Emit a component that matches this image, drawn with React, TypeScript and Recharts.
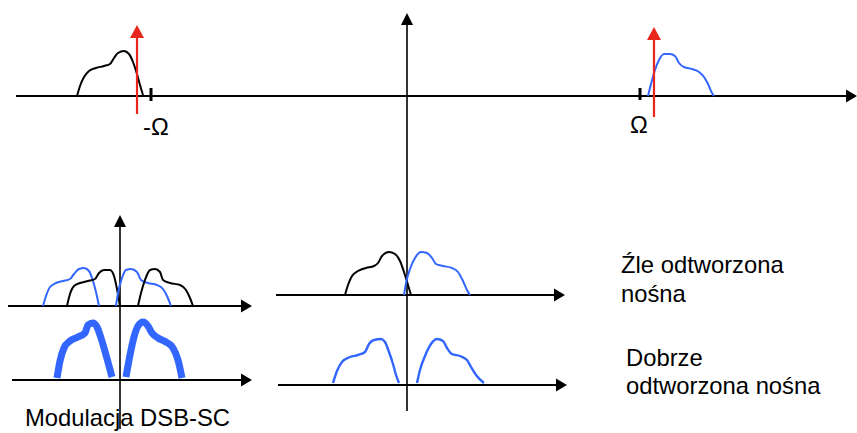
import React from 'react';
import { ComposedChart, Line, Scatter, XAxis, YAxis } from 'recharts';

// ---- Axes (diagram coordinate space: x to the right, y downward) ----
const topAxis = [{ x: 16, y: 96 }, { x: 849, y: 96 }];
const centralAxis = [{ x: 407, y: 411 }, { x: 407, y: 24 }];
const leftVertAxis = [{ x: 120, y: 429 }, { x: 120, y: 226 }];
const leftUpperAxis = [{ x: 8, y: 306 }, { x: 242, y: 306 }];
const leftLowerAxis = [{ x: 12, y: 380 }, { x: 242, y: 380 }];
const midUpperAxis = [{ x: 276, y: 295 }, { x: 555, y: 295 }];
const midLowerAxis = [{ x: 278, y: 385 }, { x: 557, y: 385 }];

const tickMinus = [{ x: 151, y: 88 }, { x: 151, y: 101 }];
const tickPlus = [{ x: 640, y: 88 }, { x: 640, y: 100 }];

// carriers (red)
const carrierLeft = [{ x: 137, y: 114 }, { x: 137, y: 36 }];
const carrierRight = [{ x: 654, y: 117 }, { x: 654, y: 38 }];

// arrow heads (tip points)
const arrowRight = [
  { x: 857, y: 96 },
  { x: 252, y: 306 },
  { x: 252, y: 380 },
  { x: 565, y: 295 },
  { x: 567, y: 385 },
];
const arrowUp = [
  { x: 407, y: 13 },
  { x: 120, y: 215 },
];
const arrowUpRed = [
  { x: 137, y: 25 },
  { x: 654, y: 27 },
];

// ---- Spectra ----
const topLeftBlack = [
  { x: 77, y: 96 }, { x: 80, y: 86 }, { x: 84, y: 77 }, { x: 89, y: 71 }, { x: 96, y: 68 },
  { x: 104, y: 66 }, { x: 110, y: 64 }, { x: 114, y: 58 }, { x: 118, y: 53 }, { x: 124, y: 51 },
  { x: 129, y: 54 }, { x: 133, y: 62 }, { x: 137, y: 74 }, { x: 140, y: 85 }, { x: 143, y: 95 },
];
const topRightBlue = [
  { x: 648, y: 96 }, { x: 651, y: 84 }, { x: 655, y: 70 }, { x: 659, y: 60 }, { x: 664, y: 54 },
  { x: 670, y: 54 }, { x: 675, y: 56 }, { x: 679, y: 63 }, { x: 684, y: 67 }, { x: 692, y: 69 },
  { x: 699, y: 72 }, { x: 704, y: 77 }, { x: 708, y: 84 }, { x: 712, y: 93 }, { x: 714, y: 96 },
];

const dsbBlueLeft = [
  { x: 43, y: 306 }, { x: 46, y: 296 }, { x: 50, y: 287 }, { x: 56, y: 283 }, { x: 63, y: 281 },
  { x: 70, y: 279 }, { x: 74, y: 274 }, { x: 79, y: 269 }, { x: 84, y: 268 }, { x: 89, y: 271 },
  { x: 93, y: 281 }, { x: 96, y: 292 }, { x: 99, y: 306 },
];
const dsbBlackLeft = [
  { x: 67, y: 306 }, { x: 70, y: 294 }, { x: 74, y: 286 }, { x: 80, y: 283 }, { x: 88, y: 281 },
  { x: 95, y: 279 }, { x: 99, y: 273 }, { x: 104, y: 270 }, { x: 110, y: 270 }, { x: 114, y: 276 },
  { x: 117, y: 289 }, { x: 120, y: 306 },
];
const dsbBlueRight = [
  { x: 116, y: 306 }, { x: 118, y: 293 }, { x: 122, y: 278 }, { x: 126, y: 270 }, { x: 131, y: 269 },
  { x: 137, y: 272 }, { x: 141, y: 280 }, { x: 148, y: 283 }, { x: 157, y: 285 }, { x: 163, y: 289 },
  { x: 167, y: 296 }, { x: 171, y: 306 },
];
const dsbBlackRight = [
  { x: 138, y: 306 }, { x: 141, y: 293 }, { x: 145, y: 280 }, { x: 150, y: 270 }, { x: 155, y: 269 },
  { x: 160, y: 272 }, { x: 163, y: 280 }, { x: 170, y: 283 }, { x: 180, y: 285 }, { x: 186, y: 290 },
  { x: 190, y: 298 }, { x: 193, y: 306 },
];
const dsbSumLeft = [
  { x: 57, y: 378 }, { x: 60, y: 361 }, { x: 64, y: 348 }, { x: 70, y: 341 }, { x: 78, y: 337 },
  { x: 85, y: 333 }, { x: 88, y: 325 }, { x: 93, y: 323 }, { x: 97, y: 327 }, { x: 101, y: 338 },
  { x: 106, y: 355 }, { x: 112, y: 377 },
];
const dsbSumRight = [
  { x: 126, y: 377 }, { x: 130, y: 355 }, { x: 134, y: 337 }, { x: 138, y: 326 }, { x: 143, y: 322 },
  { x: 148, y: 326 }, { x: 152, y: 333 }, { x: 158, y: 338 }, { x: 166, y: 342 }, { x: 173, y: 348 },
  { x: 178, y: 360 }, { x: 182, y: 378 },
];

const badBlack = [
  { x: 345, y: 295 }, { x: 348, y: 285 }, { x: 352, y: 276 }, { x: 358, y: 271 }, { x: 366, y: 268 },
  { x: 374, y: 266 }, { x: 378, y: 263 }, { x: 382, y: 256 }, { x: 389, y: 252 }, { x: 395, y: 254 },
  { x: 400, y: 261 }, { x: 404, y: 272 }, { x: 408, y: 285 }, { x: 411, y: 295 },
];
const badBlue = [
  { x: 404, y: 295 }, { x: 406, y: 283 }, { x: 410, y: 269 }, { x: 415, y: 258 }, { x: 421, y: 252 },
  { x: 427, y: 253 }, { x: 432, y: 258 }, { x: 436, y: 264 }, { x: 443, y: 266 }, { x: 452, y: 268 },
  { x: 458, y: 272 }, { x: 463, y: 281 }, { x: 467, y: 290 }, { x: 470, y: 295 },
];
const goodLeft = [
  { x: 333, y: 383 }, { x: 337, y: 371 }, { x: 342, y: 362 }, { x: 350, y: 357 }, { x: 358, y: 355 },
  { x: 365, y: 352 }, { x: 369, y: 344 }, { x: 374, y: 340 }, { x: 381, y: 339 }, { x: 385, y: 342 },
  { x: 389, y: 352 }, { x: 393, y: 364 }, { x: 396, y: 375 }, { x: 399, y: 383 },
];
const goodRight = [
  { x: 417, y: 383 }, { x: 420, y: 370 }, { x: 425, y: 356 }, { x: 431, y: 344 }, { x: 437, y: 339 },
  { x: 443, y: 341 }, { x: 447, y: 348 }, { x: 452, y: 354 }, { x: 460, y: 356 }, { x: 467, y: 360 },
  { x: 471, y: 367 }, { x: 476, y: 375 }, { x: 484, y: 383 },
];

// ---- Texts ----
const labels = [
  { x: 143, y: 135, text: '-Ω' },
  { x: 630, y: 133, text: 'Ω' },
  { x: 621, y: 273, text: 'Źle odtworzona' },
  { x: 621, y: 302, text: 'nośna' },
  { x: 626, y: 366, text: 'Dobrze' },
  { x: 626, y: 394, text: 'odtworzona nośna' },
  { x: 25, y: 426, text: 'Modulacja DSB-SC' },
];

const BLACK = '#000000';
const BLUE = '#3366ff';
const RED = '#e8261c';

const ArrowRightShape = (p: any) => {
  const { cx, cy } = p;
  return <polygon points={`${cx},${cy} ${cx - 11},${cy - 6.5} ${cx - 11},${cy + 6.5}`} fill={BLACK} />;
};
const ArrowUpShape = (p: any) => {
  const { cx, cy } = p;
  return <polygon points={`${cx},${cy} ${cx - 6},${cy + 12} ${cx + 6},${cy + 12}`} fill={BLACK} />;
};
const ArrowUpRedShape = (p: any) => {
  const { cx, cy } = p;
  return <polygon points={`${cx},${cy} ${cx - 7},${cy + 13} ${cx + 7},${cy + 13}`} fill={RED} />;
};
const TextShape = (p: any) => {
  const { cx, cy, payload } = p;
  return (
    <text x={cx} y={cy} fontSize={23.8} fontFamily="'Liberation Sans', Arial, sans-serif" fill="#000">
      {payload.text}
    </text>
  );
};

const seg = (data: any[], key: string, color: string, width: number, curved = false) => (
  <Line
    key={key}
    data={data}
    dataKey="y"
    type={curved ? 'monotone' : 'linear'}
    stroke={color}
    strokeWidth={width}
    dot={false}
    activeDot={false}
    isAnimationActive={false}
    legendType="none"
  />
);

export default function App() {
  return (
    <div style={{ position: 'absolute', left: 0, top: 0, width: 857, height: 433, background: '#fff' }}>
      <ComposedChart width={857} height={433} margin={{ top: 0, right: 0, bottom: 0, left: 0 }}>
        <XAxis type="number" dataKey="x" domain={[0, 857]} hide allowDataOverflow />
        <YAxis type="number" dataKey="y" domain={[0, 433]} reversed hide allowDataOverflow />
        {seg(topAxis, 'topAxis', BLACK, 2)}
        {seg(centralAxis, 'centralAxis', BLACK, 1.6)}
        {seg(leftVertAxis, 'leftVertAxis', BLACK, 1.6)}
        {seg(leftUpperAxis, 'leftUpperAxis', BLACK, 2)}
        {seg(leftLowerAxis, 'leftLowerAxis', BLACK, 2)}
        {seg(midUpperAxis, 'midUpperAxis', BLACK, 2)}
        {seg(midLowerAxis, 'midLowerAxis', BLACK, 2)}
        {seg(tickMinus, 'tickMinus', BLACK, 3)}
        {seg(tickPlus, 'tickPlus', BLACK, 3)}
        {seg(topLeftBlack, 'topLeftBlack', BLACK, 2, true)}
        {seg(topRightBlue, 'topRightBlue', BLUE, 2, true)}
        {seg(dsbBlueLeft, 'dsbBlueLeft', BLUE, 2, true)}
        {seg(dsbBlackLeft, 'dsbBlackLeft', BLACK, 2, true)}
        {seg(dsbBlueRight, 'dsbBlueRight', BLUE, 2, true)}
        {seg(dsbBlackRight, 'dsbBlackRight', BLACK, 2, true)}
        {seg(dsbSumLeft, 'dsbSumLeft', BLUE, 7, true)}
        {seg(dsbSumRight, 'dsbSumRight', BLUE, 7, true)}
        {seg(badBlack, 'badBlack', BLACK, 2, true)}
        {seg(badBlue, 'badBlue', BLUE, 2, true)}
        {seg(goodLeft, 'goodLeft', BLUE, 2.4, true)}
        {seg(goodRight, 'goodRight', BLUE, 2.4, true)}
        {seg(carrierLeft, 'carrierLeft', RED, 2.2)}
        {seg(carrierRight, 'carrierRight', RED, 2.2)}
        <Scatter data={arrowRight} dataKey="y" shape={ArrowRightShape} isAnimationActive={false} />
        <Scatter data={arrowUp} dataKey="y" shape={ArrowUpShape} isAnimationActive={false} />
        <Scatter data={arrowUpRed} dataKey="y" shape={ArrowUpRedShape} isAnimationActive={false} />
        <Scatter data={labels} dataKey="y" shape={TextShape} isAnimationActive={false} />
      </ComposedChart>
    </div>
  );
}
